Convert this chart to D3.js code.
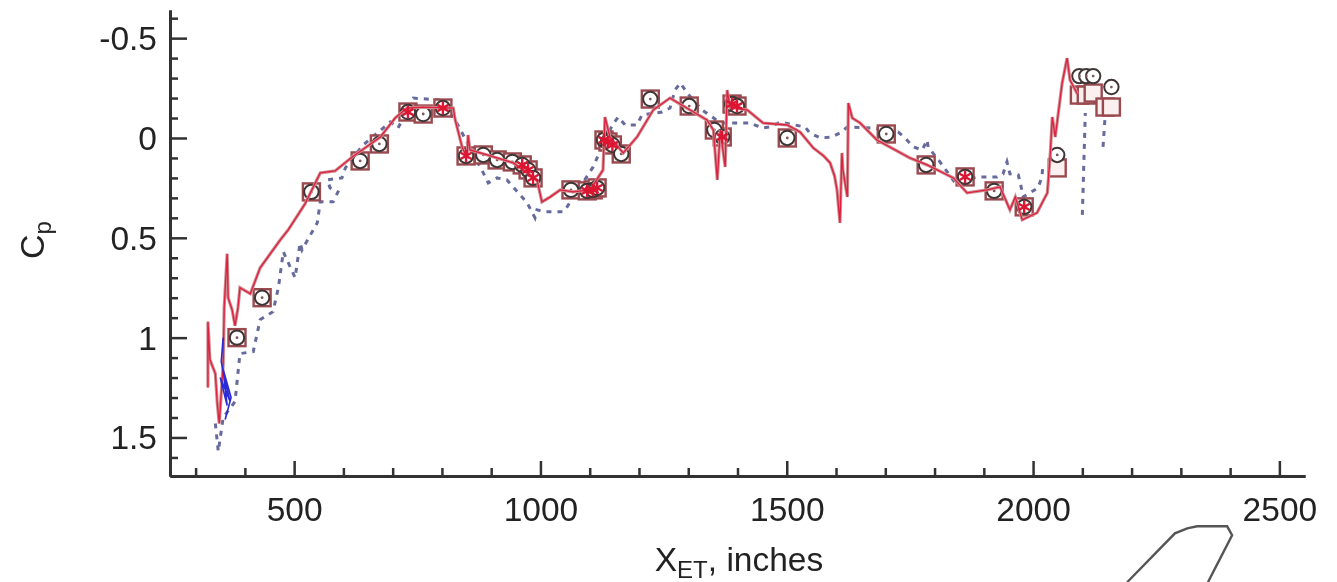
<!DOCTYPE html>
<html><head><meta charset="utf-8">
<script src="https://cdn.jsdelivr.net/npm/d3@7/dist/d3.min.js"></script>
<style>html,body{margin:0;background:#fff}svg{display:block}text{font-family:"Liberation Sans",Arial,sans-serif;fill:#222}</style>
</head><body><script>
const xMajor=[500,1000,1500,2000,2500];
const xMinor=[300,400,600,700,800,900,1100,1200,1300,1400,1600,1700,1800,1900,2100,2200,2300,2400];
const yMajor=[-0.5,0,0.5,1,1.5];
const yMinor=[-0.6,-0.4,-0.3,-0.2,-0.1,0.1,0.2,0.3,0.4,0.6,0.7,0.8,0.9,1.1,1.2,1.3,1.4,1.6];
const solidX=[325,325,329,340,344,348,356,358,364,366,374,380,386,390,411,431,472,488,522,553,583,618,675,705,729,762,823,827,841,851,853,857,892,945,993,1003,1020,1040,1066,1101,1127,1131,1141,1168,1196,1229,1263,1304,1338,1351,1359,1365,1375,1379,1385,1420,1452,1501,1527,1554,1575,1588,1597,1602,1608,1612,1614,1623,1625,1633,1649,1683,1750,1785,1838,1866,1907,1933,1953,1964,1978,2008,2029,2035,2039,2045,2059,2069,2075,2090];
const solidY=[1.25,.92,1.11,1.18,1.33,1.43,1.13,.85,.58,.80,.86,.94,.85,.75,.78,.65,.51,.46,.33,.175,.165,.095,-.005,-.10,-.15,-.155,-.15,-.09,.045,.10,-.015,.06,.085,.125,.21,.32,.295,.26,.27,.26,.16,-.105,-.005,.075,-.005,-.14,-.20,-.14,-.09,-.04,.21,-.04,.145,-.24,-.155,-.14,-.075,-.065,-.03,.05,.09,.125,.19,.26,.425,.075,.16,.295,-.175,-.10,-.075,.01,.10,.135,.20,.275,.26,.245,.36,.295,.41,.375,.275,.075,-.105,-.005,-.275,-.40,-.29,-.22];
const dashX=[340,346,356,380,390,417,431,457,468,478,502,512,516,547,553,579,589,573,567,597,604,640,695,711,742,796,827,884,894,912,932,959,973,989,993,1010,1046,1054,1107,1115,1146,1158,1172,1196,1206,1247,1263,1273,1284,1298,1328,1349,1365,1426,1450,1466,1487,1537,1547,1568,1592,1608,1623,1675,1726,1740,1757,1775,1785,1787,1811,1842,1886,1927,1939,1947,1953,1970,1974,1980,2010,2018,2020];
const dashY=[1.43,1.57,1.40,1.32,1.08,1.07,.91,.87,.75,.57,.70,.525,.56,.425,.32,.32,.27,.25,.21,.20,.15,.035,-.08,-.05,-.20,-.19,-.09,.175,.225,.20,.21,.285,.325,.40,.36,.37,.37,.345,.145,.10,-.065,-.105,-.065,-.065,-.115,-.13,-.15,-.24,-.275,-.225,-.14,-.105,-.075,-.075,-.05,-.055,-.08,-.055,-.025,0,-.005,-.025,-.055,-.05,-.03,0,.045,.06,.01,.045,.12,.225,.195,.195,.18,.12,.18,.185,.225,.295,.25,.195,.135];
const dash2X=[2100,2106], dash2Y=[.385,-.125];
const dash3X=[2142,2146], dash3Y=[.045,-.10];
const blueX=[356,352,362,370,350,364,356,372,360];
const blueY=[1.0,1.12,1.24,1.32,1.2,1.34,1.16,1.3,1.41];
const baseX=[384,435,535,634,673,731,762,802,849,884,912,943,963,975,985,1062,1095,1107,1115,1129,1137,1146,1164,1223,1302,1353,1369,1389,1399,1501,1702,1783,1862,1921,1982];
const baseY=[1,.80,.27,.115,.03,-.13,-.12,-.15,.09,.085,.11,.12,.135,.16,.20,.26,.265,.26,.25,.01,.02,.035,.08,-.195,-.16,-.04,-.005,-.17,-.16,0,-.02,.135,.195,.265,.345];
const circleX=[...baseX,2049,2094,2108,2122,2159];
const circleY=[...baseY,.085,-.31,-.31,-.31,-.255];
const squareX=[...baseX,2049,2094,2108,2122,2146,2159];
const squareY=[...baseY,.15,-.215,-.215,-.225,-.155,-.155];
const starX=[731,802,849,963,975,985,1095,1107,1115,1129,1137,1146,1369,1389,1399,1862,1982];
const starY=[-.13,-.15,.09,.135,.16,.20,.265,.26,.25,.01,.02,.035,-.005,-.17,-.16,.195,.345];
const tailX=[2191,2288,2313,2333,2394,2404,2355];
const tailY=[2.225,1.98,1.955,1.945,1.945,1.99,2.225];

const W=1337,H=582;
const svg=d3.select("body").append("svg").attr("width",W).attr("height",H);
const defs=svg.append("defs");
defs.append("filter").attr("id","soft").append("feGaussianBlur").attr("stdDeviation",0.55);
defs.append("filter").attr("id","soft2").append("feGaussianBlur").attr("stdDeviation",0.45);
const x=d3.scaleLinear().domain([248,2552]).range([170,1305]);
const y=d3.scaleLinear().domain([-0.641,1.693]).range([10,476]);
const line=d3.line().x(d=>x(d[0])).y(d=>y(d[1]));
const zip=(a,b)=>a.map((v,i)=>[v,b[i]]);

const ax=svg.append("g").attr("filter","url(#soft2)");
function styleAxis(g,w){g.selectAll("path,line").attr("stroke","#333").attr("stroke-width",w);g.select(".domain").attr("stroke-width",3);}
const gx=ax.append("g").attr("transform",`translate(0,${y.range()[1]})`);
gx.call(d3.axisBottom(x).tickValues(xMinor).tickSize(-8).tickFormat("").tickSizeOuter(0));styleAxis(gx,2.5);
const gx2=ax.append("g").attr("transform",`translate(0,${y.range()[1]})`);
gx2.call(d3.axisBottom(x).tickValues(xMajor).tickSize(-15).tickPadding(17).tickSizeOuter(0).tickFormat(d3.format("d")));styleAxis(gx2,2.5);
gx2.selectAll("text").attr("font-size",33.5).attr("dy","0.85em");
const gy=ax.append("g").attr("transform",`translate(${x.range()[0]},0)`);
gy.call(d3.axisLeft(y).tickValues(yMinor).tickSize(-8).tickFormat("").tickSizeOuter(0));styleAxis(gy,2.5);
const gy2=ax.append("g").attr("transform",`translate(${x.range()[0]},0)`);
gy2.call(d3.axisLeft(y).tickValues(yMajor).tickSize(-17).tickPadding(13).tickSizeOuter(0).tickFormat(d=>d===0?"0":String(d)));styleAxis(gy2,2.5);
gy2.selectAll("text").attr("font-size",33.5).attr("dy","0.34em");

const xl=ax.append("text").attr("x",739).attr("y",571).attr("text-anchor","middle").attr("font-size",33.5);
xl.append("tspan").text("X");
xl.append("tspan").attr("font-size",24).attr("dy",7).text("ET");
xl.append("tspan").attr("dy",-7).text(", inches");
const yl=ax.append("text").attr("transform","translate(44,240) rotate(-90)").attr("text-anchor","middle").attr("font-size",34);
yl.append("tspan").text("C");
yl.append("tspan").attr("font-size",24).attr("dy",7).text("p");

const plot=svg.append("g").attr("filter","url(#soft)");
plot.append("path").datum(zip(tailX,tailY)).attr("d",line).attr("fill","none").attr("stroke","#555").attr("stroke-width",2.4);
[zip(dashX,dashY),zip(dash2X,dash2Y),zip(dash3X,dash3Y)].forEach(s=>{
  plot.append("path").datum(s).attr("d",line).attr("fill","none").attr("stroke","#666a9c").attr("stroke-width",3).attr("stroke-dasharray","5 6");
});
plot.selectAll("rect.s").data(zip(squareX,squareY)).join("rect").attr("class","s")
 .attr("x",d=>x(d[0])-8.5).attr("y",d=>y(d[1])-8.5).attr("width",17).attr("height",17)
 .attr("fill","#fbf0f0").attr("stroke","#9a4a50").attr("stroke-width",2.4);
plot.selectAll("circle.c").data(zip(circleX,circleY)).join("circle").attr("class","c")
 .attr("cx",d=>x(d[0])).attr("cy",d=>y(d[1])).attr("r",7.2)
 .attr("fill","#fff").attr("stroke","#3f3636").attr("stroke-width",2);
plot.selectAll("circle.d").data(zip(circleX,circleY)).join("circle").attr("class","d")
 .attr("cx",d=>x(d[0])).attr("cy",d=>y(d[1])).attr("r",1.4).attr("fill","#7a5a5a");
const red=zip(solidX,solidY);
plot.append("path").datum(red).attr("d",line).attr("fill","none").attr("stroke","#d08c90").attr("stroke-width",3.2);
plot.append("path").datum(red).attr("d",line).attr("fill","none").attr("stroke","#dc2040").attr("stroke-width",1.3);
plot.selectAll("path.star").data(zip(starX,starY)).join("path").attr("class","star")
 .attr("transform",d=>`translate(${x(d[0])},${y(d[1])})`)
 .attr("d",d3.symbol(d3.symbolAsterisk,110)).attr("fill","none").attr("stroke","#dc1430").attr("stroke-width",2.4);
plot.append("path").datum(zip(blueX,blueY)).attr("d",line).attr("fill","none").attr("stroke","#2a2ad8").attr("stroke-width",1.6);
</script></body></html>
